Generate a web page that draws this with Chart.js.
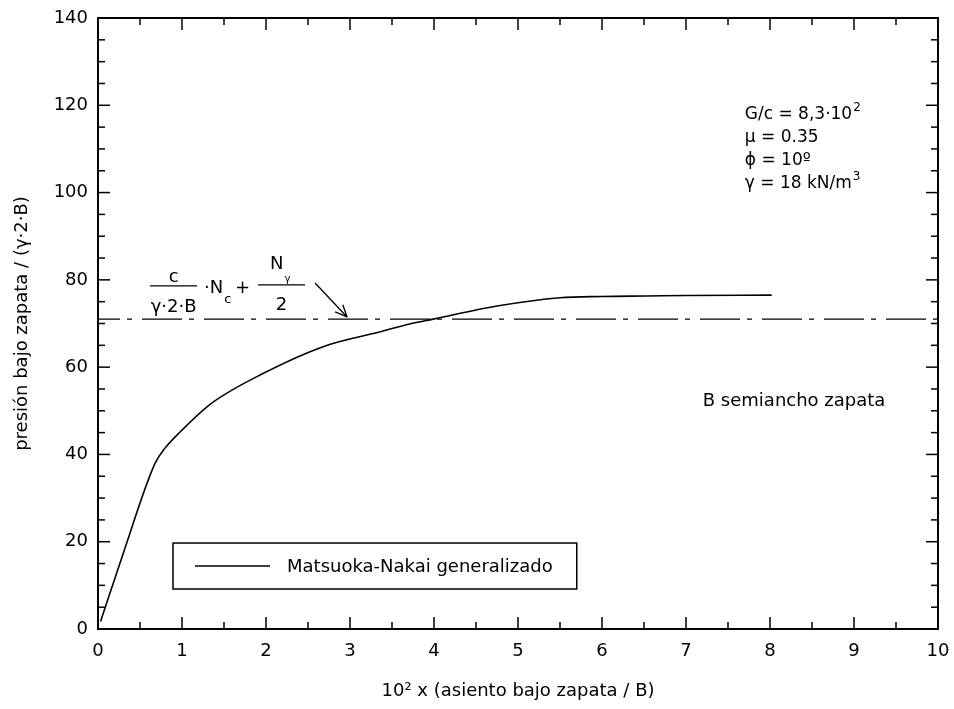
<!DOCTYPE html>
<html><head><meta charset="utf-8">
<script src="https://cdn.jsdelivr.net/npm/chart.js@4/dist/chart.umd.min.js"></script>
<style>html,body{margin:0;padding:0;background:#fff}#c{display:block}</style>
</head><body>
<canvas id="c" width="954" height="709"></canvas>
<script>
// ---- data ----
const seriesLabel = 'Matsuoka-Nakai generalizado';
const xValues = [0.03, 0.30, 0.68, 0.80, 0.98, 1.35, 1.97, 2.68, 3.36, 3.71, 3.99, 4.75, 5.50, 6.00, 6.53, 7.00, 8.02];
const yValues = [1.7, 17.3, 38.0, 41.5, 45.2, 51.7, 58.6, 64.7, 68.1, 69.9, 71.0, 74.0, 75.9, 76.2, 76.3, 76.4, 76.5];
const limitX = [0, 10];
const limitY = [71, 71];
const xTickValues = [0,1,2,3,4,5,6,7,8,9,10];
const yTickValues = [0,20,40,60,80,100,120,140];
const xTitle = '10² x (asiento bajo zapata / B)';
const yTitle = 'presión bajo zapata / (γ·2·B)';
const paramLines = [['G/c = 8,3·10', '2'], ['μ = 0.35', ''], ['ϕ = 10º', ''], ['γ = 18 kN/m', '3']];
const noteText = 'B semiancho zapata';

const FONT = "'DejaVu Sans', 'Liberation Sans', sans-serif";

function txt(ctx, s, x, y, size, align, base) {
  ctx.font = size + 'px ' + FONT;
  ctx.textAlign = align || 'left';
  ctx.textBaseline = base || 'alphabetic';
  ctx.fillText(s, x, y);
  return ctx.measureText(s).width;
}
function seg(ctx, x1, y1, x2, y2, w) {
  ctx.lineWidth = w; ctx.beginPath(); ctx.moveTo(x1, y1); ctx.lineTo(x2, y2); ctx.stroke();
}

const decor = {
  id: 'decor',
  afterDraw(chart) {
    const ctx = chart.ctx, xs = chart.scales.x, ys = chart.scales.y, a = chart.chartArea;
    ctx.save();
    ctx.strokeStyle = '#000'; ctx.fillStyle = '#000';
    // frame
    ctx.lineWidth = 2;
    ctx.strokeRect(a.left, a.top, a.right - a.left, a.bottom - a.top);
    // inward ticks (major + minor) on all four sides
    for (let v = 0; v <= 10.001; v += 0.5) {
      const p = xs.getPixelForValue(v), L = Math.abs(v - Math.round(v)) < 1e-6 ? 12 : 7;
      seg(ctx, p, a.bottom, p, a.bottom - L, 1.5);
      seg(ctx, p, a.top, p, a.top + L, 1.5);
    }
    for (let v = 0; v <= 140.001; v += 5) {
      const p = ys.getPixelForValue(v), L = (v % 20 === 0) ? 12 : 7;
      seg(ctx, a.left, p, a.left + L, p, 1.5);
      seg(ctx, a.right, p, a.right - L, p, 1.5);
    }
    // formula annotation: c/(γ·2·B)·Nc + Nγ/2
    const fx = xs.getPixelForValue(0.62), fy = ys.getPixelForValue(78.6);
    seg(ctx, fx, fy, fx + 47, fy, 1.3);
    txt(ctx, 'c', fx + 23.5, fy - 4, 18, 'center');
    txt(ctx, 'γ·2·B', fx + 23.5, fy + 26, 18, 'center');
    let w = txt(ctx, '·N', fx + 54, fy + 7, 18, 'left');
    txt(ctx, 'c', fx + 54 + w + 1, fy + 17, 13, 'left');
    txt(ctx, '+', fx + 85, fy + 7, 18, 'left');
    seg(ctx, fx + 108, fy - 1, fx + 155, fy - 1, 1.3);
    w = txt(ctx, 'N', fx + 120, fy - 17, 18, 'left');
    txt(ctx, 'γ', fx + 120 + w + 1, fy - 4, 10, 'left');
    txt(ctx, '2', fx + 131.5, fy + 24, 18, 'center');
    // arrow
    const ax1 = fx + 165, ay1 = fy - 3, ax2 = fx + 197, ay2 = fy + 31;
    seg(ctx, ax1, ay1, ax2, ay2, 1.3);
    const ang = Math.atan2(ay2 - ay1, ax2 - ax1);
    for (const d of [-0.42, 0.42]) {
      seg(ctx, ax2, ay2, ax2 - 13 * Math.cos(ang + d), ay2 - 13 * Math.sin(ang + d), 1.3);
    }
    // parameters block
    const px = xs.getPixelForValue(7.70), py = ys.getPixelForValue(116.8);
    paramLines.forEach((ln, i) => {
      const y = py + i * 23;
      const ww = txt(ctx, ln[0], px, y, 17, 'left');
      if (ln[1]) txt(ctx, ln[1], px + ww + 1, y - 8, 12, 'left');
    });
    // note
    txt(ctx, noteText, xs.getPixelForValue(7.20), ys.getPixelForValue(51.1), 18, 'left');
    // legend box
    const lx = xs.getPixelForValue(0.893), ly = ys.getPixelForValue(19.7);
    ctx.font = '18px ' + FONT;
    const tw = ctx.measureText(seriesLabel).width;
    const bw = 114 + tw + 24, bh = 46;
    ctx.lineWidth = 1.5;
    ctx.strokeRect(lx, ly, bw, bh);
    seg(ctx, lx + 22, ly + bh / 2, lx + 97, ly + bh / 2, 1.6);
    txt(ctx, seriesLabel, lx + 114, ly + bh / 2 + 1, 18, 'left', 'middle');
    ctx.restore();
  }
};

const curve = xValues.map((x, i) => ({x: x, y: yValues[i]}));
const limit = limitX.map((x, i) => ({x: x, y: limitY[i]}));

new Chart(document.getElementById('c'), {
  type: 'line',
  data: {
    datasets: [
      {label: seriesLabel, data: curve, borderColor: '#000', borderWidth: 1.6,
       pointRadius: 0, cubicInterpolationMode: 'monotone', fill: false},
      {label: 'límite', data: limit, borderColor: '#000', borderWidth: 1.3,
       pointRadius: 0, borderDash: [40, 7, 5, 10], borderDashOffset: 18, fill: false}
    ]
  },
  options: {
    responsive: false, animation: false, devicePixelRatio: 1,
    layout: {padding: {top: 18, right: 16, left: 0, bottom: 0}},
    plugins: {legend: {display: false}, tooltip: {enabled: false}},
    scales: {
      x: {
        type: 'linear', min: 0, max: 10,
        afterBuildTicks: s => { s.ticks = xTickValues.map(v => ({value: v})); },
        afterFit: s => { s.height = 80; s.paddingLeft = 0; s.paddingRight = 0; },
        grid: {display: false, drawTicks: false}, border: {display: false},
        ticks: {color: '#000', padding: 12, maxRotation: 0, autoSkip: false, font: {family: FONT, size: 18}},
        title: {display: true, text: xTitle, color: '#000', font: {family: FONT, size: 18}, padding: {top: 0, bottom: 7}}
      },
      y: {
        type: 'linear', min: 0, max: 140,
        afterBuildTicks: s => { s.ticks = yTickValues.map(v => ({value: v})); },
        afterFit: s => { s.width = 98; s.paddingTop = 0; s.paddingBottom = 0; },
        grid: {display: false, drawTicks: false}, border: {display: false},
        ticks: {color: '#000', padding: 10, autoSkip: false, font: {family: FONT, size: 18}},
        title: {display: true, text: yTitle, color: '#000', font: {family: FONT, size: 18}, padding: {top: 12, bottom: 0}}
      }
    }
  },
  plugins: [decor]
});
</script>
</body></html>
